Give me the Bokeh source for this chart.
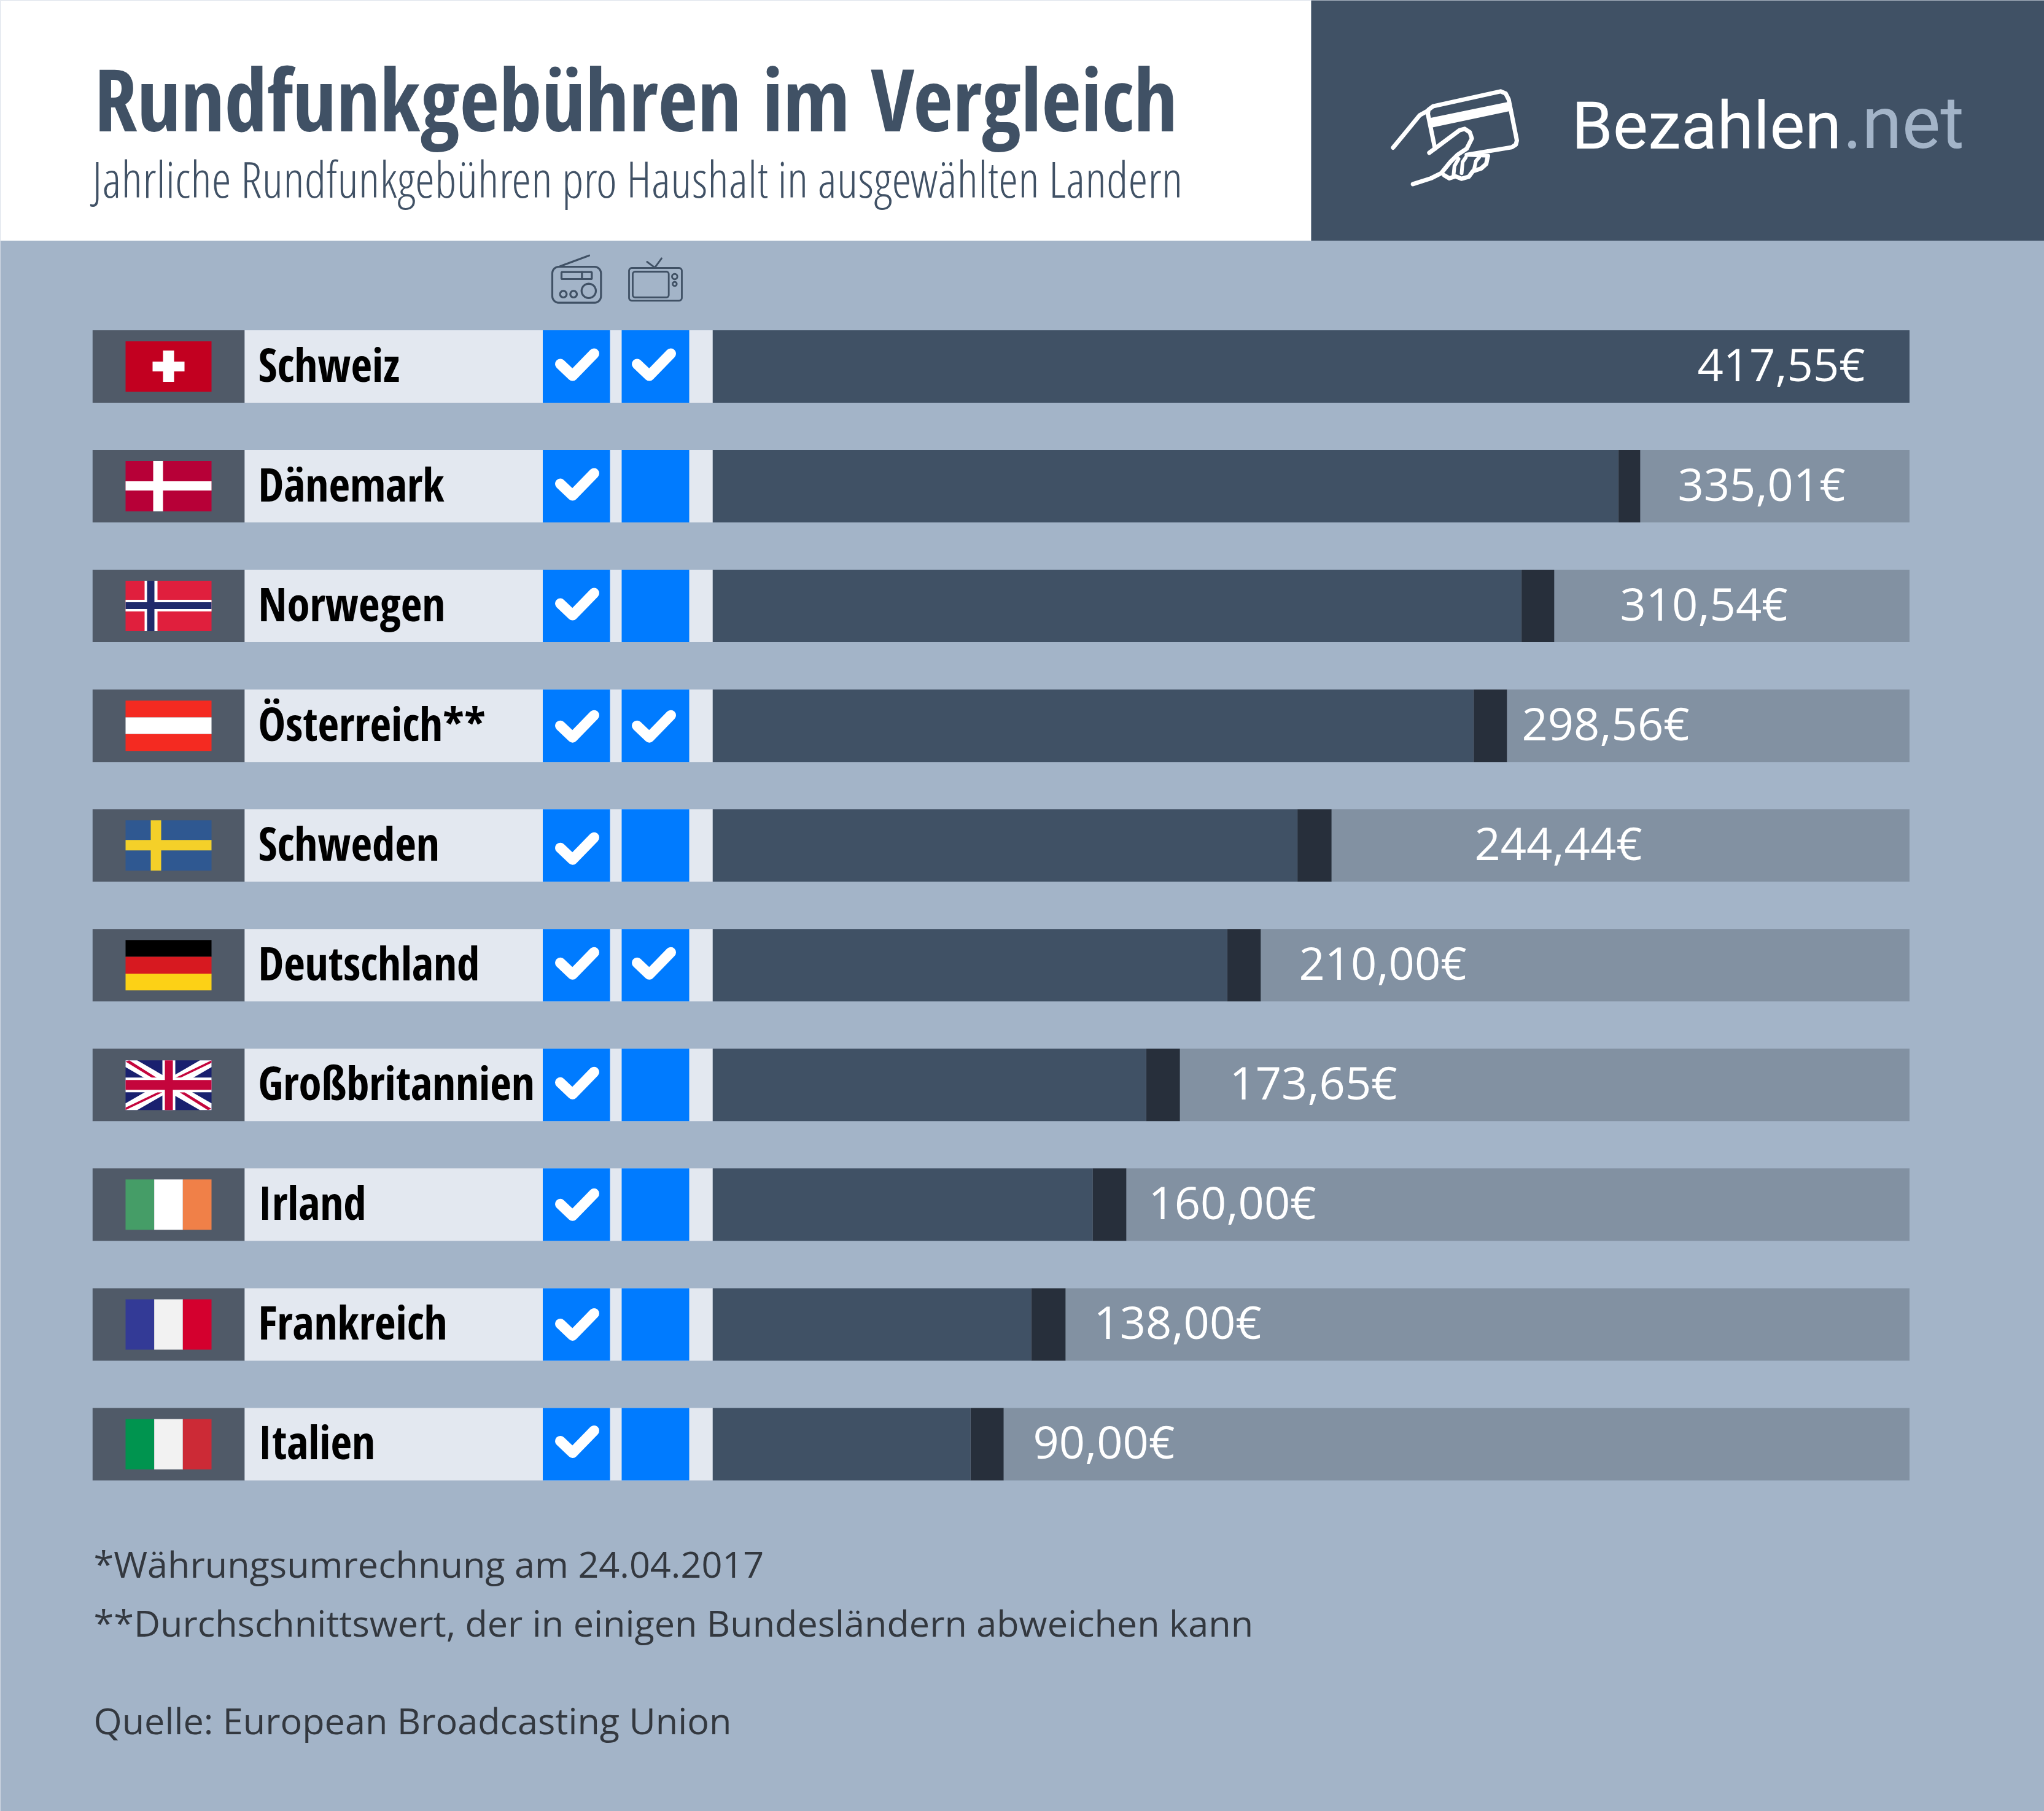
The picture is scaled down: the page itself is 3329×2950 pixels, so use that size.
import math
from bokeh.embed import file_html
from bokeh.resources import INLINE
from bokeh.models import Range1d, ColumnDataSource
from bokeh.plotting import figure
from bokeh.core.properties import value

# ---------- data ----------
countries = ["Schweiz", "Dänemark", "Norwegen", "Österreich**", "Schweden",
             "Deutschland", "Großbritannien", "Irland", "Frankreich", "Italien"]
fee_labels = ["417,55€", "335,01€", "310,54€", "298,56€", "244,44€",
              "210,00€", "173,65€", "160,00€", "138,00€", "90,00€"]
bar_main = [417.55, 315.9, 282.1, 265.4, 204.0, 179.5, 151.2, 132.5, 111.1, 89.9]
bar_total = [417.55, 323.6, 293.6, 277.1, 215.9, 191.2, 163.0, 144.3, 123.1, 101.5]
radio_fee = [1, 1, 1, 1, 1, 1, 1, 1, 1, 1]
tv_fee = [1, 0, 0, 1, 0, 1, 0, 0, 0, 0]
axis_max = 417.55

TITLE = "Rundfunkgebühren im Vergleich"
SUBTITLE = "Jahrliche Rundfunkgebühren pro Haushalt in ausgewählten Landern"
NOTES = ["*Währungsumrechnung am 24.04.2017",
         "**Durchschnittswert, der in einigen Bundesländern abweichen kann",
         "Quelle: European Broadcasting Union"]

# ---------- layout (pixels of the picture) ----------
W, H = 3329, 2950
ROW_TOP0, ROW_PITCH, ROW_H = 537.5, 195.05, 118
BAR_L, BAR_R = 1160.3, 3109.5
LABEL_LEFT = [2764, 2732, 2638, 2478, 2401, 2115, 2002, 1870, 1781, 1682]
CHECK_SHIFT = [0, 0, 0, 4, 8, 0, 0, 3, 3, -1]
BASE_K = 0.40   # bokeh draws 'alphabetic' text this many ems below y

BG = "#a3b4c8"; DARK = "#405165"; FLAGCELL = "#505a68"; NAMECELL = "#e3e8f0"
BLUE = "#007bff"; BAND = "#272f3b"; REST = "#8291a2"; NOTE = "#33383f"

tops = [ROW_TOP0 + i * ROW_PITCH for i in range(len(countries))]
bottoms = [t + ROW_H for t in tops]

p = figure(width=W, height=H, output_backend="svg", toolbar_location=None,
           x_range=Range1d(0, W), y_range=Range1d(H, 0),
           x_axis_type=None, y_axis_type=None, min_border=0,
           background_fill_color=BG, border_fill_color=BG, outline_line_color=None)
p.grid.visible = False
per_px = axis_max / (BAR_R - BAR_L)
p.extra_x_ranges = {"eur": Range1d((0 - BAR_L) * per_px, (W - BAR_L) * per_px)}


def box(l, r, t, b, color):
    p.quad(left=l, right=r, top=t, bottom=b, fill_color=color, line_color=None)


def poly(pts, color):
    p.patch([q[0] for q in pts], [q[1] for q in pts], fill_color=color, line_color=None)


def stroke(pts, color, w):
    p.line([q[0] for q in pts], [q[1] for q in pts], line_color=color, line_width=w,
           line_join="round", line_cap="round")


def rrect(l, t, r, b, rad):
    pts = []
    for cx, cy, a0 in [(r - rad, t + rad, -90), (r - rad, b - rad, 0), (l + rad, b - rad, 90), (l + rad, t + rad, 180)]:
        for k in range(7):
            a = math.radians(a0 + k * 15)
            pts.append((cx + rad * math.cos(a), cy + rad * math.sin(a)))
    pts.append(pts[0])
    return pts


def circ(cx, cy, rad):
    return [(cx + rad * math.cos(math.radians(k)), cy + rad * math.sin(math.radians(k))) for k in range(0, 361, 15)]


# ---------- header ----------
box(0, 2135, 0, 391.5, "#ffffff")
box(2135, W, 0, 391.5, DARK)


def txt(x, y, s, font, size, color, style="normal"):
    p.text(x=[x], y=[y - BASE_K * size], text=[s], text_font=value(font), text_font_size=f"{size}px", text_color=color,
           text_font_style=style, text_align="left", text_baseline="alphabetic")


txt(153, 215, TITLE, "Open Sans Condensed", 140, DARK, "bold")
txt(150, 323, SUBTITLE, "Open Sans Condensed Light", 81.4, DARK)
txt(2559, 248, "Bezahlen", "Roboto", 108, "#ffffff")
txt(3001, 248, ".net", "Roboto", 118, BG)

# logo: hand holding card (zoomed coordinates -> pixels)
zl = lambda pts: [(2240 + x / 3, 130 + y / 3) for x, y in pts]
LOGO = "#ffffff"
stroke(zl([(85, 330), (215, 172), (250, 152)]), LOGO, 7)
stroke(zl([(255, 165), (258, 145), (280, 128), (610, 55), (635, 65), (650, 95), (690, 295), (685, 315),
           (665, 328), (445, 365)]), LOGO, 7)
stroke(zl([(255, 165), (290, 335)]), LOGO, 7)
poly(zl([(265, 185), (655, 105), (662, 150), (275, 232)]), LOGO)
stroke(zl([(262, 355), (410, 245), (435, 238), (460, 255), (470, 285), (445, 335), (400, 365), (365, 400),
           (320, 455), (270, 480), (182, 508)]), LOGO, 7)
stroke(zl([(335, 465), (360, 480), (390, 470), (420, 482), (455, 472), (475, 445), (515, 432), (540, 410),
           (548, 372)]), LOGO, 7)
stroke(zl([(380, 470), (385, 420), (405, 385)]), LOGO, 6)
stroke(zl([(420, 455), (425, 400), (440, 378)]), LOGO, 6)
stroke(zl([(480, 440), (490, 395), (505, 378)]), LOGO, 6)
stroke(zl([(445, 365), (550, 370)]), LOGO, 6)

# radio / TV icons
zi = lambda pts: [(850 + x / 3, 380 + y / 3) for x, y in pts]
ICON = DARK
stroke(zi(rrect(147, 162, 385, 338, 32)), ICON, 3.2)
stroke(zi([(185, 160), (327, 107)]), ICON, 3.2)
stroke(zi(rrect(192, 188, 340, 222, 3)), ICON, 3.2)
stroke(zi([(292, 188), (292, 222)]), ICON, 3.2)
stroke(zi(circ(325, 280, 35)), ICON, 3.2)
stroke(zi(circ(201, 296, 16)), ICON, 3.2)
stroke(zi(circ(251, 296, 16)), ICON, 3.2)
stroke(zi(rrect(522, 168, 780, 328, 14)), ICON, 2.8)
stroke(zi(rrect(540, 186, 716, 312, 12)), ICON, 2.8)
stroke(zi(circ(745, 210, 13)), ICON, 2.8)
stroke(zi(circ(745, 246, 10)), ICON, 2.8)
stroke(zi([(610, 138), (648, 166), (681, 121)]), ICON, 2.8)

# ---------- rows ----------
p.quad(left=[150.3] * 10, right=[398] * 10, top=tops, bottom=bottoms, fill_color=FLAGCELL, line_color=None)
p.quad(left=[398] * 10, right=[1160.3] * 10, top=tops, bottom=bottoms, fill_color=NAMECELL, line_color=None)
p.quad(left=[883.5] * 10, right=[993] * 10, top=tops, bottom=bottoms, fill_color=BLUE, line_color=None)
p.quad(left=[1012] * 10, right=[1122] * 10, top=tops, bottom=bottoms, fill_color=BLUE, line_color=None)

src = ColumnDataSource(dict(zero=[0] * 10, main=bar_main, total=bar_total, full=[axis_max] * 10,
                            top=tops, bottom=bottoms))
p.quad(left="total", right="full", top="top", bottom="bottom", source=src, x_range_name="eur",
       fill_color=REST, line_color=None)
p.quad(left="main", right="total", top="top", bottom="bottom", source=src, x_range_name="eur",
       fill_color=BAND, line_color=None)
p.quad(left="zero", right="main", top="top", bottom="bottom", source=src, x_range_name="eur",
       fill_color=DARK, line_color=None)

NAME_SIZE, VAL_SIZE = 75, 74
p.text(x=[420] * 10, y=[t + 85 - BASE_K * NAME_SIZE for t in tops], text=countries,
       text_font=value("Open Sans Condensed"),
       text_font_size=f"{NAME_SIZE}px", text_font_style="bold", text_color="#000000", text_baseline="alphabetic")
p.text(x=LABEL_LEFT, y=[t + 84 - BASE_K * VAL_SIZE for t in tops], text=fee_labels, text_font=value("Open Sans"),
       text_font_size=f"{VAL_SIZE}px", text_color="#ffffff", text_baseline="alphabetic")

for i in range(10):
    t = tops[i] + CHECK_SHIFT[i]
    if radio_fee[i]:
        stroke([(912, t + 55), (932, t + 74), (967, t + 38)], "#ffffff", 17)
    if tv_fee[i]:
        stroke([(1037, t + 55), (1057, t + 74), (1092, t + 38)], "#ffffff", 17)


# ---------- flags ----------
FL, FR = 204, 344
FW = FR - FL


def fbox(i, a, b, c, d, color):   # a,b horizontal px inside flag, c,d vertical px inside flag
    box(FL + a, FL + b, tops[i] + 18 + c, tops[i] + 18 + d, color)


def vstripes(i, cols):
    for k, c in enumerate(cols):
        fbox(i, k * FW / 3, (k + 1) * FW / 3, 0, 82, c)


def hstripes(i, cols):
    for k, c in enumerate(cols):
        fbox(i, 0, FW, k * 82 / 3, (k + 1) * 82 / 3, c)


# Switzerland
fbox(0, 0, FW, 0, 82, "#c20020")
fbox(0, 61, 79, 15, 66, "#ffffff")
fbox(0, 44, 96, 33, 49, "#ffffff")
# Denmark
fbox(1, 0, FW, 0, 82, "#b70037")
fbox(1, 45, 61, 0, 82, "#ffffff")
fbox(1, 0, FW, 33, 48, "#ffffff")
# Norway
fbox(2, 0, FW, 0, 82, "#e01f3d")
fbox(2, 31, 52, 0, 82, "#ffffff")
fbox(2, 0, FW, 31, 50, "#ffffff")
fbox(2, 35, 47, 0, 82, "#1f2a6b")
fbox(2, 0, FW, 35, 46, "#1f2a6b")
# Austria
hstripes(3, ["#f42a21", "#ffffff", "#f42a21"])
# Sweden
fbox(4, 0, FW, 0, 82, "#2f5891")
fbox(4, 41, 58, 0, 82, "#f4d029")
fbox(4, 0, FW, 32, 49, "#f4d029")
# Germany
hstripes(5, ["#000000", "#d71920", "#fcd116"])
# UK
ux, uy, uh = FL, tops[6] + 19, 81
fbox(6, 0, FW, 1, 82, "#19206f")
U = lambda pts: [(ux + a, uy + b) for a, b in pts]
D, E = 19, 11
poly(U([(0, 0), (D, 0), (FW, uh - E), (FW, uh), (FW - D, uh), (0, E)]), "#ffffff")
poly(U([(FW, 0), (FW - D, 0), (0, uh - E), (0, uh), (D, uh), (FW, E)]), "#ffffff")
R = "#c4053c"
poly(U([(0, 2), (6, 0), (52, 29), (44, 29)]), R)
poly(U([(FW, uh - 2), (FW - 6, uh), (FW - 52, uh - 29), (FW - 44, uh - 29)]), R)
poly(U([(FW, 0), (FW, 4), (88, 29), (80, 29)]), R)
poly(U([(0, uh), (0, uh - 4), (52, uh - 29), (60, uh - 29)]), R)
fbox(6, 60, 81, 1, 82, "#ffffff")
fbox(6, 0, FW, 29, 53, "#ffffff")
fbox(6, 64, 77, 1, 82, R)
fbox(6, 0, FW, 33, 49, R)
# Ireland, France, Italy
vstripes(7, ["#459d67", "#ffffff", "#f08048"])
vstripes(8, ["#333a96", "#f2f2f2", "#d4002e"])
vstripes(9, ["#00944f", "#f2f2f2", "#cc2a36"])

# ---------- notes ----------
txt(152, 2570, NOTES[0], "Open Sans", 59.4, NOTE)
txt(152, 2666, NOTES[1], "Open Sans", 59.4, NOTE)
txt(152, 2825, NOTES[2], "Open Sans", 59.4, NOTE)

open("out.html", "w").write(file_html(p, INLINE))
